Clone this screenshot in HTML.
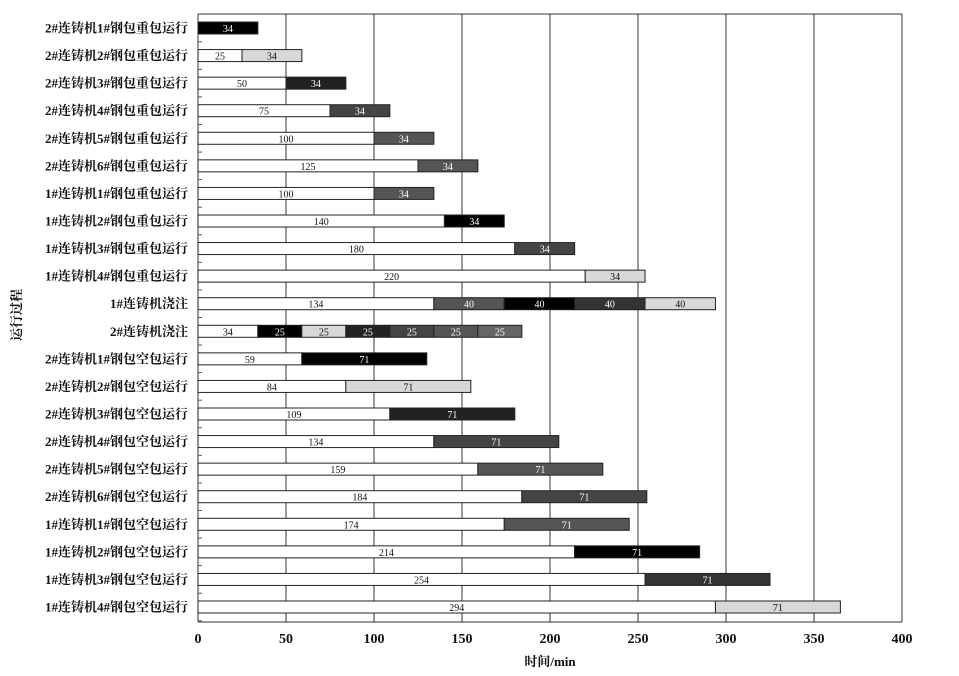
<!DOCTYPE html>
<html><head><meta charset="utf-8"><style>
html,body{margin:0;padding:0;background:#fff;}
svg{display:block;}
.lab{font-family:"Liberation Serif","Noto Serif CJK SC",serif;font-weight:bold;font-size:13px;fill:#111;}
.val{font-family:"Liberation Serif",serif;font-size:10px;}
.tick{font-family:"Liberation Serif",serif;font-weight:bold;font-size:14px;fill:#111;}
</style></head><body>
<svg id="chart" width="959" height="676" xmlns="http://www.w3.org/2000/svg"></svg>
<script>
const categories=["2#连铸机1#钢包重包运行","2#连铸机2#钢包重包运行","2#连铸机3#钢包重包运行","2#连铸机4#钢包重包运行","2#连铸机5#钢包重包运行","2#连铸机6#钢包重包运行","1#连铸机1#钢包重包运行","1#连铸机2#钢包重包运行","1#连铸机3#钢包重包运行","1#连铸机4#钢包重包运行","1#连铸机浇注","2#连铸机浇注","2#连铸机1#钢包空包运行","2#连铸机2#钢包空包运行","2#连铸机3#钢包空包运行","2#连铸机4#钢包空包运行","2#连铸机5#钢包空包运行","2#连铸机6#钢包空包运行","1#连铸机1#钢包空包运行","1#连铸机2#钢包空包运行","1#连铸机3#钢包空包运行","1#连铸机4#钢包空包运行"];
const durations=[[34],[25,34],[50,34],[75,34],[100,34],[125,34],[100,34],[140,34],[180,34],[220,34],[134,40,40,40,40],[34,25,25,25,25,25,25],[59,71],[84,71],[109,71],[134,71],[159,71],[184,71],[174,71],[214,71],[254,71],[294,71]];
const fills=[["#000"],["#fff","#d8d8d8"],["#fff","#222"],["#fff","#444"],["#fff","#555"],["#fff","#555"],["#fff","#555"],["#fff","#000"],["#fff","#444"],["#fff","#d8d8d8"],["#fff","#555","#000","#333","#d8d8d8"],["#fff","#000","#d8d8d8","#222","#444","#555","#666"],["#fff","#000"],["#fff","#d8d8d8"],["#fff","#222"],["#fff","#444"],["#fff","#555"],["#fff","#444"],["#fff","#555"],["#fff","#000"],["#fff","#333"],["#fff","#d8d8d8"]];
const xTicks=[0,50,100,150,200,250,300,350,400];
const NS="http://www.w3.org/2000/svg";
const svg=document.getElementById('chart');
const X0=198,X1=902,Y0=14,Y1=622,xMax=400;
const xs=v=>X0+v*(X1-X0)/xMax;
const ys=i=>28+i*(607-28)/(categories.length-1);
function mk(t,a,p){const e=document.createElementNS(NS,t);for(const k in a)e.setAttribute(k,a[k]);(p||svg).appendChild(e);return e;}
xTicks.forEach(t=>{
  const l=mk('line',{x1:xs(t),x2:xs(t),y1:Y0,y2:Y1,stroke:'#333','stroke-width':1});
  
  
  const tx=mk('text',{x:xs(t),y:643,'text-anchor':'middle',class:'tick'});tx.textContent=t;
  
  
});
mk('line',{x1:X0,x2:X1,y1:Y0,y2:Y0,stroke:'#333'});
mk('line',{x1:X0,x2:X1,y1:Y1,y2:Y1,stroke:'#333'});
for(let i=0;i<=categories.length;i++){const y=ys(i)-13.8;mk('line',{x1:X0,x2:X0+4,y1:y,y2:y,stroke:'#555'});}
categories.forEach((c,i)=>{
  const y=ys(i);
  const lb=mk('text',{x:188,y:y+4.5,'text-anchor':'end',class:'lab'});lb.textContent=c;
  
  
  let acc=0;
  durations[i].forEach((d,j)=>{
    const f=fills[i][j];
    const r=mk('rect',{x:xs(acc),y:y-6,width:xs(acc+d)-xs(acc),height:12,fill:f,stroke:'#222','stroke-width':1});
    
    
    const light=(f==='#fff'||f==='#d8d8d8');
    const t=mk('text',{x:(xs(acc)+xs(acc+d))/2,y:y+4,'text-anchor':'middle',class:'val',fill:light?'#111':'#fff'});
    t.textContent=d;
    
    
    acc+=d;
  });
});
const yt=mk('text',{x:0,y:0,transform:'translate(21,315) rotate(-90)','text-anchor':'middle',class:'lab'});yt.textContent='运行过程';


const xt=mk('text',{x:550,y:666,'text-anchor':'middle',class:'lab'});xt.textContent='时间/min';


</script>
</body></html>
